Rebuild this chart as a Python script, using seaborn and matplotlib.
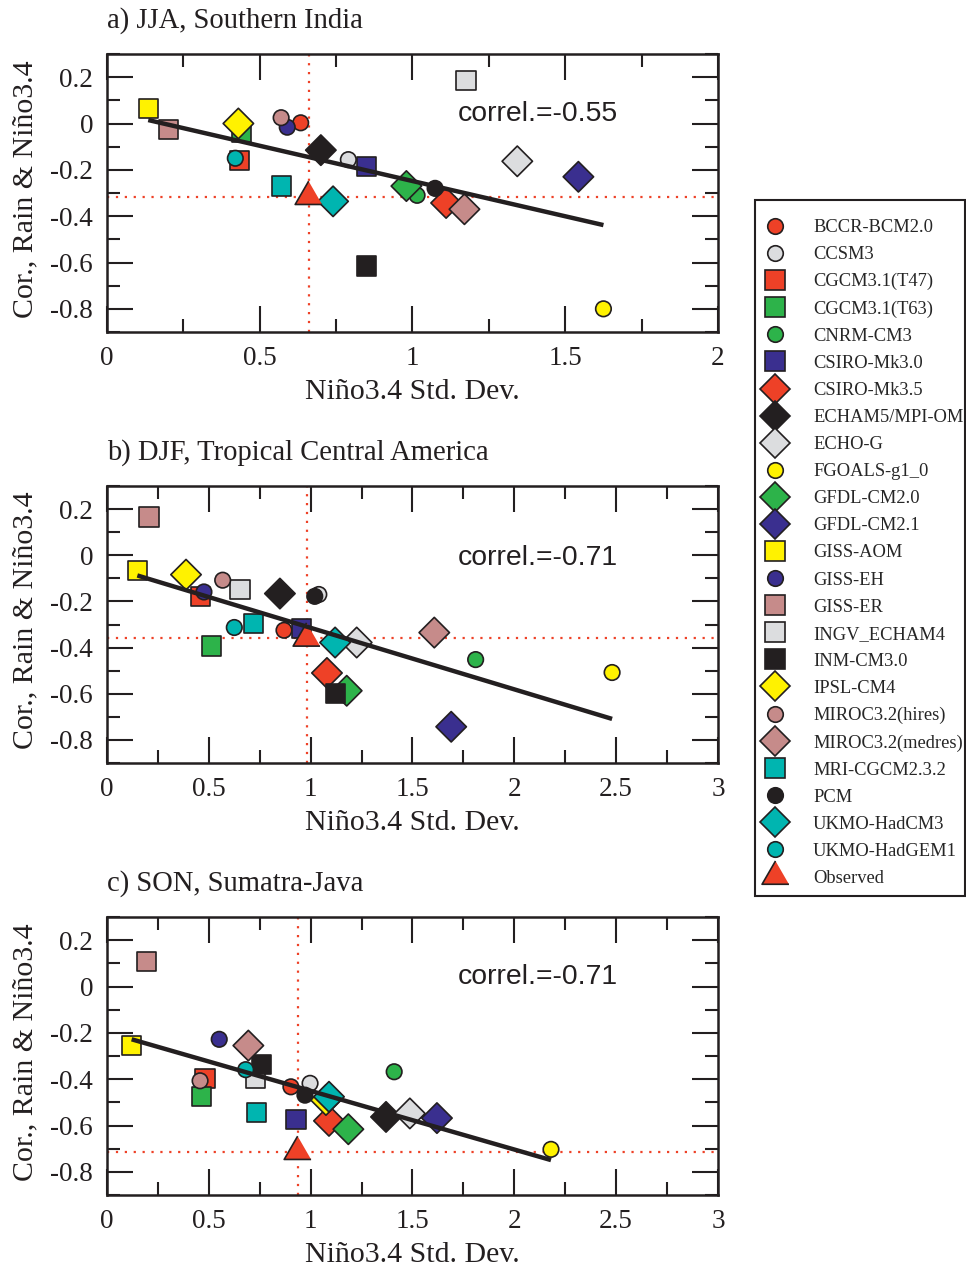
import numpy as np
import pandas as pd
import matplotlib
matplotlib.use("Agg")
import matplotlib.pyplot as plt
from matplotlib.lines import Line2D
from matplotlib.patches import Rectangle
from matplotlib.ticker import MultipleLocator, FuncFormatter
import seaborn as sns

# ---------------- data ----------------
models = ["BCCR-BCM2.0", "CCSM3", "CGCM3.1(T47)", "CGCM3.1(T63)", "CNRM-CM3",
          "CSIRO-Mk3.0", "CSIRO-Mk3.5", "ECHAM5/MPI-OM", "ECHO-G", "FGOALS-g1_0",
          "GFDL-CM2.0", "GFDL-CM2.1", "GISS-AOM", "GISS-EH", "GISS-ER",
          "INGV_ECHAM4", "INM-CM3.0", "IPSL-CM4", "MIROC3.2(hires)", "MIROC3.2(medres)",
          "MRI-CGCM2.3.2", "PCM", "UKMO-HadCM3", "UKMO-HadGEM1", "Observed"]
kinds = ["circle", "circle", "square", "square", "circle",
         "square", "diamond", "diamond", "diamond", "circle",
         "diamond", "diamond", "square", "circle", "square",
         "square", "square", "diamond", "circle", "diamond",
         "square", "circle", "diamond", "circle", "triangle"]
RED, GREY, GREEN, BLUE = "#EE4127", "#DCDDDF", "#2DB34A", "#3A2F8F"
BLACK, YELLOW, PINK, CYAN = "#231F20", "#FFF200", "#C68B8A", "#00B5B0"
colors = [RED, GREY, RED, GREEN, GREEN,
          BLUE, RED, BLACK, GREY, YELLOW,
          GREEN, BLUE, YELLOW, BLUE, PINK,
          GREY, BLACK, YELLOW, PINK, PINK,
          CYAN, BLACK, CYAN, CYAN, RED]

# a) JJA, Southern India
jja_std = [0.634, 0.79, 0.435, 0.44, 1.015, 0.85, 1.11, 0.70, 1.343, 1.625,
           0.98, 1.543, 0.135, 0.59, 0.20, 1.175, 0.85, 0.43, 0.57, 1.17,
           0.57, 1.074, 0.74, 0.42, 0.66]
jja_cor = [0.003, -0.156, -0.16, -0.04, -0.31, -0.185, -0.343, -0.115, -0.163, -0.80,
           -0.27, -0.23, 0.065, -0.016, -0.026, 0.186, -0.615, 0.0, 0.025, -0.37,
           -0.27, -0.28, -0.336, -0.15, -0.316]
# b) DJF, Tropical Central America
djf_std = [0.869, 1.04, 0.46, 0.514, 1.81, 0.956, 1.08, 0.849, 1.226, 2.48,
           1.177, 1.69, 0.149, 0.476, 0.206, 0.653, 1.12, 0.388, 0.568, 1.607,
           0.72, 1.02, 1.12, 0.625, 0.98]
djf_cor = [-0.325, -0.17, -0.18, -0.393, -0.452, -0.318, -0.51, -0.166, -0.378, -0.508,
           -0.587, -0.743, -0.065, -0.159, 0.166, -0.147, -0.60, -0.084, -0.108, -0.335,
           -0.296, -0.178, -0.378, -0.313, -0.36]
# c) SON, Sumatra-Java
son_std = [0.903, 0.997, 0.481, 0.465, 1.41, 0.928, 1.09, 1.37, 1.487, 2.18,
           1.185, 1.62, 0.121, 0.551, 0.195, 0.728, 0.759, 1.075, 0.457, 0.694,
           0.735, 0.972, 1.09, 0.681, 0.936]
son_cor = [-0.433, -0.418, -0.397, -0.475, -0.368, -0.573, -0.58, -0.563, -0.548, -0.703,
           -0.616, -0.568, -0.255, -0.228, 0.108, -0.397, -0.335, -0.49, -0.407, -0.255,
           -0.544, -0.469, -0.476, -0.359, -0.713]

titles = ["a) JJA, Southern India", "b) DJF, Tropical Central America", "c) SON, Sumatra-Java"]
correl_labels = ["correl.=-0.55", "correl.=-0.71", "correl.=-0.71"]
x_limits = [2, 3, 3]
y_tick_values = [-0.8, -0.6, -0.4, -0.2, 0, 0.2]

# ---------------- style ----------------
sns.set_style("ticks")
plt.rcParams["font.family"] = ["Liberation Serif", "DejaVu Serif"]
plt.rcParams["axes.unicode_minus"] = False

marker_of = {"circle": "o", "square": "s", "diamond": "D",
             "triangle": [(0, 1), (-0.866, -0.5), (0.866, -0.5)]}
size_of = {"circle": 125, "square": 190, "diamond": 240, "triangle": 500}

fig = plt.figure(figsize=(9.66, 12.66), dpi=100)
W, H = 966.0, 1266.0
panel_px = [(54, 332), (486, 763), (917, 1195)]
correl_pos = [(0.5745, 0.785), (0.5745, 0.74), (0.5745, 0.785)]

all_std = [jja_std, djf_std, son_std]
all_cor = [jja_cor, djf_cor, son_cor]

fmt = FuncFormatter(lambda v, p: ("%g" % round(v, 3)))

for i in range(3):
    top, bot = panel_px[i]
    ax = fig.add_axes([107 / W, 1 - bot / H, (718 - 107) / W, (bot - top) / H])
    df = pd.DataFrame({"model": models, "kind": kinds,
                       "std": all_std[i], "cor": all_cor[i]})
    obs = df[df["model"] == "Observed"].iloc[0]
    # observed reference lines
    ax.axvline(obs["std"], color=RED, ls=(0, (1, 3)), lw=1.6, zorder=1)
    ax.axhline(obs["cor"], color=RED, ls=(0, (1, 3)), lw=1.6, zorder=1)

    sns.scatterplot(data=df, x="std", y="cor", hue="model", style="model", size="model",
                    palette=dict(zip(models, colors)),
                    markers={m: marker_of[k] for m, k in zip(models, kinds)},
                    sizes={m: size_of[k] for m, k in zip(models, kinds)},
                    edgecolor=BLACK, linewidth=1.2, legend=False, ax=ax, zorder=3)

    mod = df[df["model"] != "Observed"]
    sns.regplot(data=mod, x="std", y="cor", scatter=False, ci=None, truncate=True,
                color=BLACK, line_kws=dict(lw=3.2, solid_capstyle="butt", zorder=4), ax=ax)

    ax.set_xlim(0, x_limits[i])
    ax.set_ylim(-0.9, 0.3)
    ax.xaxis.set_major_locator(MultipleLocator(0.5))
    ax.xaxis.set_minor_locator(MultipleLocator(0.25))
    ax.set_yticks(y_tick_values)
    ax.yaxis.set_minor_locator(MultipleLocator(0.1))
    ax.xaxis.set_major_formatter(fmt)
    ax.yaxis.set_major_formatter(fmt)
    ax.tick_params(which="both", direction="in", top=True, right=True, width=1.5,
                   color=BLACK, labelsize=19.5, labelcolor=BLACK)
    ax.tick_params(which="major", length=19, pad=10)
    ax.tick_params(which="minor", length=9.5)
    for sp in ax.spines.values():
        sp.set_linewidth(1.8)
        sp.set_color(BLACK)
        sp.set_visible(True)
    ax.set_xlabel("Niño3.4 Std. Dev.", fontsize=21.5, color=BLACK)
    ax.set_ylabel("Cor., Rain & Niño3.4", fontsize=21.5, color=BLACK)
    ax.xaxis.set_label_coords(0.5, -0.168)
    ax.yaxis.set_label_coords(-0.113, 0.515)
    ax.set_title(titles[i], loc="left", fontsize=20.6, pad=19, color=BLACK)
    ax.text(correl_pos[i][0], correl_pos[i][1], correl_labels[i], transform=ax.transAxes,
            fontsize=20.4, family="Liberation Sans", va="center", ha="left", color=BLACK)

# ---------------- legend ----------------
handles = [Line2D([], [], ls="none", marker=marker_of[k], color=c,
                  markersize=np.sqrt(size_of[k]), markeredgecolor=BLACK, markeredgewidth=1.2)
           for k, c in zip(kinds, colors)]
leg = fig.legend(handles, models, loc="upper left", bbox_to_anchor=(760 / W, 1 - 219 / H),
                 borderaxespad=0, frameon=False,
                 fontsize=13.3, labelspacing=0.545, handlelength=1.6, handletextpad=1.27,
                 borderpad=0)
frame = Rectangle((755 / W, 1 - 896 / H), (965 - 755) / W, (896 - 200) / H,
                  transform=fig.transFigure, fill=False, edgecolor=BLACK, lw=1.5)
fig.patches.append(frame)

fig.savefig("out.png", dpi=100)
